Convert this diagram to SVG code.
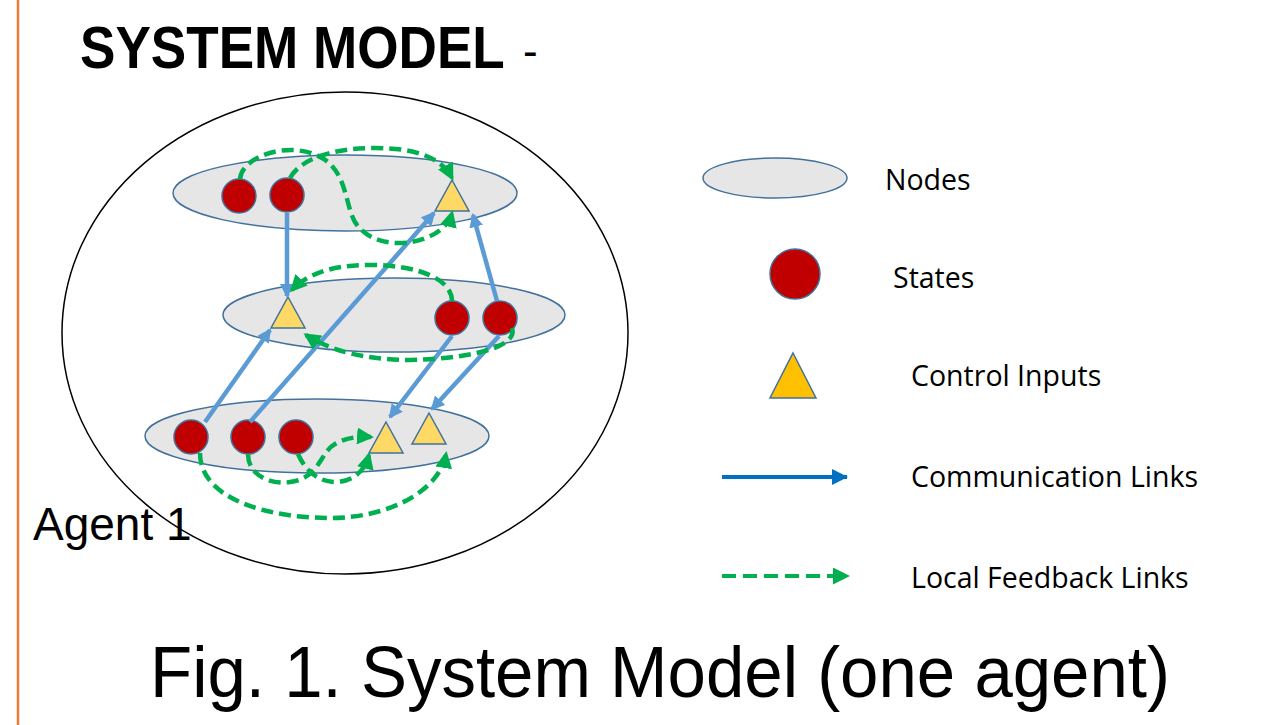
<svg xmlns="http://www.w3.org/2000/svg" width="1285" height="725" viewBox="0 0 1285 725">
<style>
.node{fill:#E7E6E6;stroke:#41719C;stroke-width:1.5}
.state{fill:#C00000;stroke:#41719C;stroke-width:1.5}
.ctrl{fill:#FFD966;stroke:#41719C;stroke-width:1.5}
.comm{fill:none;stroke:#5B9BD5;stroke-width:4.5;marker-end:url(#ba)}
.fb{fill:none;stroke:#00B050;stroke-width:4.5;stroke-dasharray:12 6;marker-end:url(#ga)}
.leg{font-family:"Open Sans","Noto Sans",sans-serif;font-size:28.5px;fill:#000}
.cap{font-family:"Liberation Sans",Arial,sans-serif;fill:#000}
</style>
<defs>
<marker id="ba" markerUnits="userSpaceOnUse" markerWidth="14" markerHeight="14" refX="12" refY="7" orient="auto"><path d="M0,0 L14,7 L0,14 z" fill="#5B9BD5"/></marker>
<marker id="ga" markerUnits="userSpaceOnUse" markerWidth="17" markerHeight="17" refX="14" refY="8.5" orient="auto"><path d="M0,0 L17,8.5 L0,17 z" fill="#00B050"/></marker>
<marker id="lba" markerUnits="userSpaceOnUse" markerWidth="16" markerHeight="16" refX="15" refY="8" orient="auto"><path d="M0,0 L16,8 L0,16 z" fill="#0070C0"/></marker>
</defs>
<rect width="1285" height="725" fill="#fff"/>
<line x1="18" y1="0" x2="18" y2="725" stroke="#ED7D31" stroke-width="2.5"/>
<text class="cap" transform="translate(80,68) scale(0.885,1)" font-size="60" font-weight="bold">SYSTEM MODEL</text>
<text class="cap" x="523" y="66" font-size="44">-</text>

<g id="agent">
<ellipse cx="345" cy="333" rx="283" ry="241" fill="none" stroke="#000" stroke-width="1.5"/>
</g>
<g id="node-top"><ellipse class="node" cx="345" cy="193" rx="172" ry="38"/></g>
<g id="node-mid"><ellipse class="node" cx="394" cy="315" rx="171" ry="37"/></g>
<g id="node-bot"><ellipse class="node" cx="317" cy="436" rx="172" ry="37"/></g>

<g id="states-top">
<circle class="state" cx="239" cy="196" r="17"/>
<circle class="state" cx="287" cy="195" r="17"/>
</g>
<g id="ctrl-top"><polygon class="ctrl" points="452,180 469,211 435,211"/></g>
<g id="ctrl-mid"><polygon class="ctrl" points="288,297 305,328 271,328"/></g>
<g id="states-mid">
<circle class="state" cx="452" cy="318" r="17"/>
<circle class="state" cx="500" cy="318" r="17"/>
</g>
<g id="states-bot">
<circle class="state" cx="191" cy="437" r="17"/>
<circle class="state" cx="248" cy="437" r="17"/>
<circle class="state" cx="296" cy="437" r="17"/>
</g>
<g id="ctrl-bot">
<polygon class="ctrl" points="386,422 403,453 369,453"/>
<polygon class="ctrl" points="429,413 446,444 412,444"/>
</g>

<g id="connectors">
<path class="comm" d="M287,213 L287,296"/>
<path class="comm" d="M205,422 L270,330"/>
<path class="comm" d="M250,422 L434,213"/>
<path class="comm" d="M497,301 L473,215"/>
<path class="comm" d="M452,336 L390,417"/>
<path class="comm" d="M499,336 L432,409"/>

<path class="fb" d="M240,179 C242,155 292,140 322,158 C347,172 345,205 355,222 C368,243 395,245 412,242 C432,238 448,228 452,213"/>
<path class="fb" d="M290,178 C300,160 330,148 375,148 C410,148 440,155 452,178"/>
<path class="fb" d="M452,301 C452,280 420,265 370,265 C330,265 306,275 292,290"/>
<path class="fb" d="M512,328 C518,345 480,358 410,360 C370,360 332,352 306,335"/>
<path class="fb" d="M200,453 C200,500 270,518 330,518 C390,518 440,490 446,454"/>
<path class="fb" d="M248,454 C248,475 270,485 290,482 C320,478 320,452 335,444 C345,438 358,436 371,437"/>
<path class="fb" d="M298,454 C305,470 318,483 338,482 C355,480 365,470 369,455"/>
</g>

<text class="cap" x="33" y="540" font-size="46">Agent 1</text>

<g id="legend">
<ellipse class="node" cx="775" cy="178" rx="72" ry="20"/>
<text class="leg" x="885" y="190">Nodes</text>
<circle class="state" cx="795" cy="274" r="25"/>
<text class="leg" x="893" y="288">States</text>
<polygon points="793,353 816,398 770,398" fill="#FFC000" stroke="#41719C" stroke-width="1.5"/>
<text class="leg" x="911" y="386">Control Inputs</text>
<line x1="722" y1="477" x2="847" y2="477" stroke="#0070C0" stroke-width="4" marker-end="url(#lba)"/>
<text class="leg" x="911" y="487">Communication Links</text>
<line x1="722" y1="576" x2="847" y2="576" stroke="#00B050" stroke-width="4" stroke-dasharray="14 7" marker-end="url(#ga)"/>
<text class="leg" x="911" y="588">Local Feedback Links</text>
</g>

<text class="cap" x="150" y="697" font-size="72" textLength="1020" lengthAdjust="spacingAndGlyphs">Fig. 1. System Model (one agent)</text>
</svg>
